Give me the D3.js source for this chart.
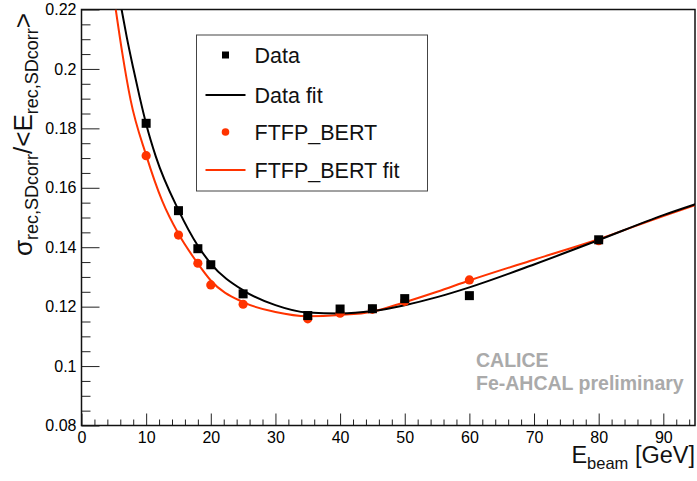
<!DOCTYPE html>
<html>
<head>
<meta charset="utf-8">
<script src="https://cdn.jsdelivr.net/npm/d3@7"></script>
<style>
  body { margin: 0; background: #fff; }
  svg { font-family: "Liberation Sans", Arial, sans-serif; }
</style>
</head>
<body>
<div id="chart"></div>
<script>
// beam energies (GeV)
const energies = [10, 15, 18, 20, 25, 35, 40, 45, 50, 60, 80];
// relative resolution, data and simulation
const dataRes = [0.1817, 0.1523, 0.1395, 0.1341, 0.1243, 0.1170, 0.1192, 0.1193, 0.1227, 0.1237, 0.1425];
const dataErr = [0.0012, 0.0006, 0.0005, 0.0005, 0.0004, 0.0004, 0.0004, 0.0004, 0.0004, 0.0004, 0.0004];
const simRes = [0.1708, 0.1441, 0.1346, 0.1273, 0.1208, 0.1159, 0.1178, 0.1191, 0.1218, 0.1290, 0.1422];
const simErr = [0.0010, 0.0005, 0.0004, 0.0004, 0.0004, 0.0004, 0.0004, 0.0004, 0.0004, 0.0004, 0.0004];

// fit curves
const dataFitE = [6.2, 7, 8, 9, 10, 11.5, 15, 18, 20, 25, 30, 35, 40, 45, 50, 55, 60, 70, 80, 90, 95];
const dataFitV = [0.22, 0.2107, 0.2003, 0.1905, 0.1815, 0.1705, 0.1525, 0.1405, 0.1345, 0.1255, 0.1205, 0.1180, 0.1177, 0.1185, 0.1205, 0.1232, 0.1265, 0.1342, 0.1424, 0.1508, 0.1545];
const simFitE = [5.3, 6.3, 7.6, 10, 12.5, 15, 18, 20, 25, 30, 35, 40, 45, 50, 55, 60, 70, 80, 90, 95];
const simFitV = [0.22, 0.2055, 0.1895, 0.1710, 0.1555, 0.1445, 0.1345, 0.1288, 0.1215, 0.1182, 0.1168, 0.1172, 0.1183, 0.1215, 0.1250, 0.1288, 0.1358, 0.1427, 0.1505, 0.1542];

const yTicks = [0.08, 0.1, 0.12, 0.14, 0.16, 0.18, 0.2, 0.22];
const xTicks = [0, 10, 20, 30, 40, 50, 60, 70, 80, 90];
const legendItems = ["Data", "Data fit", "FTFP_BERT", "FTFP_BERT fit"];

const red = "#ff3300";
const width = 697, height = 481;
const margin = { top: 9.5, right: 2, bottom: 55.5, left: 81.5 };
const w = width - margin.left - margin.right;
const h = height - margin.top - margin.bottom;

const svg = d3.select("#chart").append("svg")
    .attr("width", width)
    .attr("height", height);

const g = svg.append("g")
    .attr("transform", `translate(${margin.left},${margin.top})`);

//scales
const x = d3.scaleLinear().domain([0, 94.9]).range([0, w]);
const y = d3.scaleLinear().domain([0.08, 0.22]).range([h, 0]);

g.append("clipPath").attr("id", "clip")
    .append("rect").attr("width", w).attr("height", h);

//axes: ticks point inwards
g.append("g")
    .call(d3.axisLeft(y).tickValues(yTicks).tickFormat(d3.format("~g")).tickSize(-18).tickPadding(5));
const yMinor = d3.range(0.08, 0.2201, 0.005).filter(v => !yTicks.some(t => Math.abs(t - v) < 1e-6));
g.append("g")
    .call(d3.axisLeft(y).tickValues(yMinor).tickFormat("").tickSize(-9));

g.append("g")
    .attr("transform", `translate(0,${h})`)
    .call(d3.axisBottom(x).tickValues(xTicks).tickSize(-12).tickPadding(6));
const xMinor = d3.range(2, 95, 2).filter(v => v % 10 !== 0);
g.append("g")
    .attr("transform", `translate(0,${h})`)
    .call(d3.axisBottom(x).tickValues(xMinor).tickFormat("").tickSize(-6));

g.selectAll(".domain").remove();
g.selectAll(".tick line").attr("stroke", "#222").attr("stroke-width", 1);
g.selectAll(".tick text")
    .attr("font-size", 16)
    .attr("fill", "#000")
    .attr("font-family", "Liberation Sans, Arial, sans-serif");

//frame
g.append("rect")
    .attr("width", w).attr("height", h)
    .attr("fill", "none").attr("stroke", "#111").attr("stroke-width", 1.5);

//fit lines
const line = d3.line()
    .x(d => x(d[0]))
    .y(d => y(d[1]))
    .curve(d3.curveMonotoneX);

const plot = g.append("g").attr("clip-path", "url(#clip)");

plot.append("path")
    .datum(simFitE.map((e, i) => [e, simFitV[i]]))
    .attr("d", line)
    .attr("fill", "none").attr("stroke", red).attr("stroke-width", 2);

plot.append("path")
    .datum(dataFitE.map((e, i) => [e, dataFitV[i]]))
    .attr("d", line)
    .attr("fill", "none").attr("stroke", "#000").attr("stroke-width", 2);

//error bars
function errBars(vals, errs, color) {
    plot.append("g").selectAll("line")
        .data(energies)
        .join("line")
        .attr("x1", d => x(d)).attr("x2", d => x(d))
        .attr("y1", (d, i) => y(vals[i] - errs[i]))
        .attr("y2", (d, i) => y(vals[i] + errs[i]))
        .attr("stroke", color).attr("stroke-width", 1);
}
errBars(simRes, simErr, red);
errBars(dataRes, dataErr, "#000");

//markers
plot.append("g").selectAll("circle")
    .data(energies)
    .join("circle")
    .attr("cx", d => x(d))
    .attr("cy", (d, i) => y(simRes[i]))
    .attr("r", 4.6)
    .attr("fill", red);

plot.append("g").selectAll("rect")
    .data(energies)
    .join("rect")
    .attr("x", d => x(d) - 4.5)
    .attr("y", (d, i) => y(dataRes[i]) - 4.5)
    .attr("width", 9).attr("height", 9)
    .attr("fill", "#000");

//legend
const legend = svg.append("g").attr("transform", "translate(196.5,35)");
legend.append("rect")
    .attr("width", 231).attr("height", 156)
    .attr("fill", "#fff").attr("stroke", "#444").attr("stroke-width", 1);

const rowY = [20, 60, 97, 135];
legendItems.forEach((label, i) => {
    const row = legend.append("g").attr("transform", `translate(0,${rowY[i]})`);
    if (i === 0) {
        row.append("rect").attr("x", 25.5).attr("y", -3.5).attr("width", 7).attr("height", 7).attr("fill", "#000");
    } else if (i === 2) {
        row.append("circle").attr("cx", 29).attr("cy", 0).attr("r", 3.8).attr("fill", red);
    } else {
        row.append("line").attr("x1", 9).attr("x2", 49).attr("y1", 0).attr("y2", 0)
            .attr("stroke", i === 1 ? "#000" : red).attr("stroke-width", 2);
    }
    row.append("text")
        .attr("x", 58).attr("y", 8)
        .attr("font-size", 21.5)
        .attr("fill", "#111")
        .text(label);
});

//watermark
svg.append("text")
    .attr("x", 476).attr("y", 367)
    .attr("font-size", 19.5).attr("font-weight", "bold").attr("fill", "#aaaaaa")
    .text("CALICE");
svg.append("text")
    .attr("x", 476).attr("y", 390)
    .attr("font-size", 19.5).attr("font-weight", "bold").attr("fill", "#aaaaaa")
    .text("Fe-AHCAL preliminary");

//axis titles
const xt = svg.append("text")
    .attr("x", 695).attr("y", 463)
    .attr("text-anchor", "end")
    .attr("font-size", 23.5).attr("fill", "#111");
xt.append("tspan").text("E");
xt.append("tspan").attr("font-size", 16.5).attr("dy", 6).text("beam");
xt.append("tspan").attr("dy", -6).text(" [GeV]");

const yt = svg.append("text")
    .attr("transform", "translate(32,256) rotate(-90)")
    .attr("font-size", 26).attr("fill", "#111");
yt.append("tspan").text("σ");
yt.append("tspan").attr("font-size", 18).attr("dy", 6).text("rec,SDcorr");
yt.append("tspan").attr("dy", -6).text("/<E");
yt.append("tspan").attr("font-size", 18).attr("dy", 6).text("rec,SDcorr");
yt.append("tspan").attr("dy", -6).text(">");
</script>
</body>
</html>
